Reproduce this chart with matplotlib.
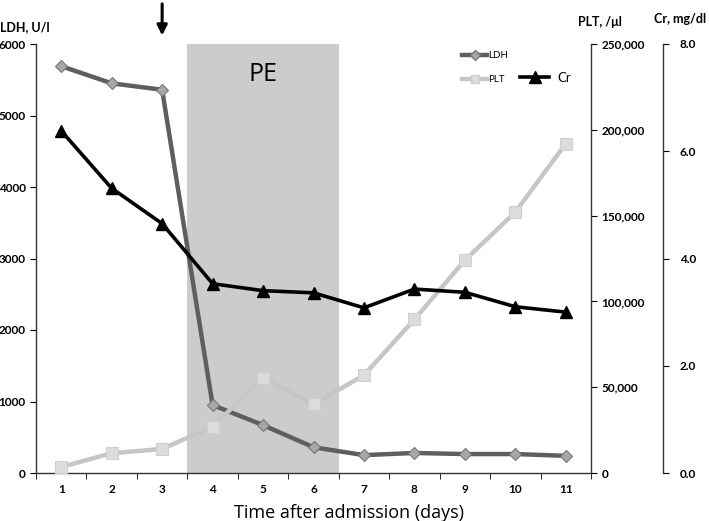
import matplotlib
matplotlib.use("Agg")
import matplotlib.pyplot as plt
from matplotlib.lines import Line2D
from matplotlib.ticker import FuncFormatter, MultipleLocator

days = [1, 2, 3, 4, 5, 6, 7, 8, 9, 10, 11]
ldh = [5690, 5450, 5360, 950, 670, 360, 250, 280, 265, 265, 240]
plt_vals = [3500, 11500, 14000, 27000, 55500, 40000, 57000, 89500, 124000, 152000, 192000]
cr = [6.38, 5.31, 4.65, 3.53, 3.40, 3.36, 3.08, 3.43, 3.37, 3.10, 3.00]
pe_start, pe_end = 3.5, 6.5

plt.rcParams['font.family'] = ['Lato', 'DejaVu Sans']

W, H = 709, 521
fig = plt.figure(figsize=(W / 100, H / 100), dpi=100)
left, right, bottom, top = 36, 591, 473, 44
ax = fig.add_axes([left / W, 1 - bottom / H, (right - left) / W, (bottom - top) / H])
ax2 = ax.twinx()
ax3 = ax.twinx()

ax.axvspan(pe_start, pe_end, color='#cccccc', zorder=0, lw=0)
ax.text((pe_start + pe_end) / 2, 5570, 'PE', ha='center', va='center', fontsize=18,
        family=['Open Sans', 'DejaVu Sans'])

ax.plot(days, ldh, color='#5e5e5e', lw=3.2, marker='D', ms=6,
        mfc='#a8a8a8', mec='#777777', mew=0.8, zorder=3)
ax2.plot(days, plt_vals, color='#c6c6c6', lw=3.2, marker='s', ms=8.5,
         mfc='#dcdcdc', mec='#cfcfcf', mew=0.8, zorder=3)
ax3.plot(days, cr, color='black', lw=2.6, marker='^', ms=9, mfc='black', mec='black', zorder=4)

ax.set_xlim(0.5, 11.5)
ax.set_ylim(0, 6000)
ax2.set_ylim(0, 250000)
ax3.set_ylim(0, 8.0)

for a in (ax, ax2, ax3):
    a.spines['top'].set_visible(False)
    a.patch.set_visible(False)
ax.spines['right'].set_visible(False)
ax2.spines['left'].set_visible(False)
ax2.spines['bottom'].set_visible(False)
ax3.spines['left'].set_visible(False)
ax3.spines['bottom'].set_visible(False)
ax3.spines['right'].set_position(('axes', (663 - left) / (right - left)))
for a in (ax, ax2, ax3):
    for s in a.spines.values():
        s.set_linewidth(1.0)
        s.set_color('#333333')

tick_font = dict(fontsize=8.5, fontweight='bold')
ax.set_xticks(days)
ax.set_xticks([d + 0.5 for d in [0] + days], minor=True)
ax.tick_params(axis='x', which='major', length=0, pad=8)
ax.tick_params(axis='x', which='minor', length=4, direction='out')
ax.set_xticklabels([str(d) for d in days], **tick_font)

ax.yaxis.set_major_locator(MultipleLocator(1000))
ax.tick_params(axis='y', length=4, direction='out')
for lab in ax.get_yticklabels():
    lab.set_fontsize(8.5); lab.set_fontweight('bold')

ax2.yaxis.set_major_locator(MultipleLocator(50000))
ax2.yaxis.set_major_formatter(FuncFormatter(lambda v, p: f"{int(v):,}"))
ax2.tick_params(axis='y', length=4, direction='out')
for lab in ax2.get_yticklabels():
    lab.set_fontsize(8.5); lab.set_fontweight('bold')

ax3.yaxis.set_major_locator(MultipleLocator(2.0))
ax3.yaxis.set_major_formatter(FuncFormatter(lambda v, p: f"{v:.1f}"))
ax3.tick_params(axis='y', length=4, direction='out', pad=8)
for lab in ax3.get_yticklabels():
    lab.set_fontsize(8.5); lab.set_fontweight('bold')

ax.set_xlabel('Time after admission (days)', fontsize=13,
              family=['Open Sans', 'DejaVu Sans'])
ax.xaxis.set_label_coords((349 - left) / (right - left), -0.072)

fig.text(0 / W, 1 - 27 / H, 'LDH, U/l', fontsize=9, fontweight='bold', va='center', ha='left')
fig.text(600 / W, 1 - 22 / H, 'PLT, /\u03bcl', fontsize=9, fontweight='bold', va='center', ha='center')
fig.text(680 / W, 1 - 19 / H, 'Cr, mg/dl', fontsize=9, fontweight='bold', va='center', ha='center')

# arrow marking day 3
ax.annotate('', xy=(3, 6000 + 80), xytext=(3, 6000 + 600), annotation_clip=False,
            arrowprops=dict(arrowstyle='-|>,head_length=0.6,head_width=0.3', color='black', lw=2.2))

h1 = Line2D([], [], color='#5e5e5e', lw=3.2, marker='D', ms=5, mfc='#a8a8a8', mec='#777777')
h2 = Line2D([], [], color='#c6c6c6', lw=3.2, marker='s', ms=6, mfc='#dcdcdc', mec='#cfcfcf')
h3 = Line2D([], [], color='black', lw=2.6, marker='^', ms=9, mfc='black')
leg1 = fig.legend([h1, h2], ['LDH', 'PLT'], loc='upper left', bbox_to_anchor=(462 / W, 1 - 51 / H),
                  frameon=False, fontsize=7, handlelength=2.6, handletextpad=0.1, labelspacing=1.55,
                  borderaxespad=0, borderpad=0)
leg2 = fig.legend([h3], ['Cr'], loc='upper left', bbox_to_anchor=(520 / W, 1 - 72 / H),
                  frameon=False, fontsize=9.5, handlelength=2.2, handletextpad=0.6, borderaxespad=0,
                  borderpad=0)

fig.savefig('out.png', dpi=100)
